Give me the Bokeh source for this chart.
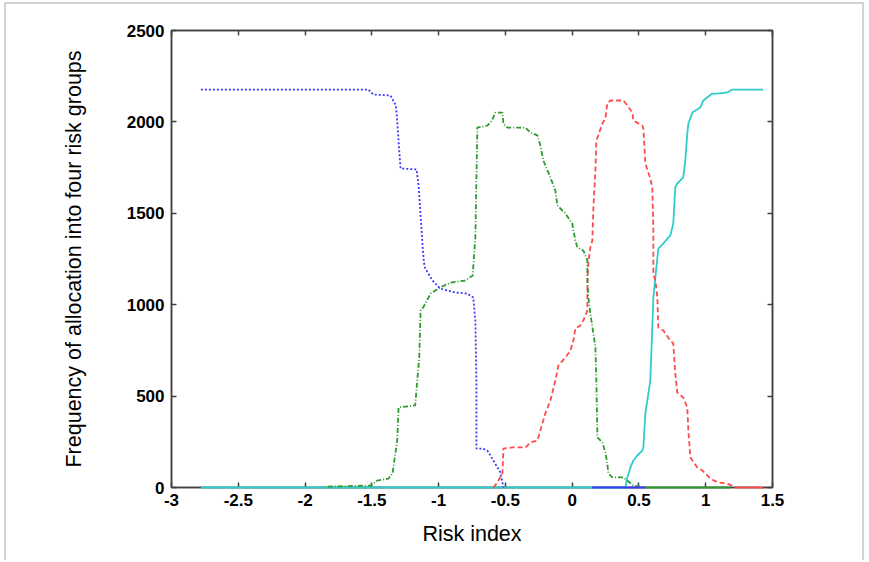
from bokeh.plotting import figure
from bokeh.models import LinearAxis, FixedTicker, Range1d
from bokeh.embed import file_html
from bokeh.resources import INLINE

# ---- tick values / labels ----
x_ticks = [-3.0, -2.5, -2.0, -1.5, -1.0, -0.5, 0.0, 0.5, 1.0, 1.5]
x_tick_labels = ["-3", "-2.5", "-2", "-1.5", "-1", "-0.5", "0", "0.5", "1", "1.5"]
y_ticks = [0, 500, 1000, 1500, 2000, 2500]
y_tick_labels = ["0", "500", "1000", "1500", "2000", "2500"]
x_title = "Risk index"
y_title = "Frequency of allocation into four risk groups"

# ---- series (risk index, frequency) ----
blue_x = [-2.78, -1.525, -1.49, -1.36, -1.32, -1.31, -1.295, -1.285, -1.165, -1.15, -1.135, -1.12,
          -1.11, -1.10, -1.045, -0.99, -0.875, -0.785, -0.74, -0.725, -0.717, -0.717, -0.672,
          -0.635, -0.612, -0.537, -0.515]
blue_y = [2177, 2177, 2150, 2144, 2090, 2008, 1844, 1745, 1740, 1652, 1488, 1324, 1231, 1198,
          1132, 1089, 1067, 1061, 1039, 914, 585, 213, 213, 202, 175, 82, 0]
blue_tail_x = [0.15, 0.55]
blue_tail_y = [0, 0]

green_x = [-1.83, -1.51, -1.46, -1.375, -1.345, -1.31, -1.30, -1.175, -1.16, -1.145, -1.135, -1.115,
           -1.06, -0.99, -0.91, -0.80, -0.745, -0.725, -0.71, -0.635, -0.6, -0.575, -0.522, -0.515,
           -0.485, -0.35, -0.313, -0.26, -0.238, -0.216, -0.163, -0.126, -0.111, -0.051, 0.0, 0.024,
           0.039, 0.084, 0.114, 0.114, 0.121, 0.136, 0.159, 0.174, 0.181, 0.189, 0.226, 0.249, 0.263,
           0.271, 0.301, 0.383, 0.413, 0.458, 0.548]
green_y = [5, 11, 38, 49, 77, 257, 438, 449, 585, 711, 968, 985, 1061, 1094, 1121, 1132, 1160, 1368,
           1969, 1980, 2008, 2051, 2051, 1991, 1969, 1969, 1942, 1926, 1871, 1789, 1696, 1625, 1543,
           1499, 1444, 1351, 1313, 1296, 1242, 1149, 1039, 952, 842, 766, 585, 274, 246, 191, 131, 77,
           55, 55, 38, 11, 0]
green_tail_x = [0.548, 1.184]
green_tail_y = [0, 0]

red_x = [-0.59, -0.56, -0.522, -0.515, -0.448, -0.35, -0.313, -0.26, -0.238, -0.201, -0.163, -0.126,
         -0.103, -0.051, -0.013, 0.009, 0.024, 0.061, 0.084, 0.114, 0.114, 0.121, 0.136, 0.151, 0.159,
         0.174, 0.181, 0.196, 0.226, 0.249, 0.263, 0.286, 0.383, 0.413, 0.451, 0.458, 0.496, 0.525,
         0.533, 0.548, 0.57, 0.585, 0.6, 0.608, 0.608, 0.623, 0.638, 0.645, 0.683, 0.735, 0.757, 0.772,
         0.787, 0.832, 0.862, 0.87, 0.885, 0.937, 0.975, 1.034, 1.094, 1.162, 1.222]
red_y = [0, 27, 77, 213, 219, 219, 246, 257, 312, 405, 476, 585, 667, 711, 749, 804, 870, 886, 914,
         968, 1132, 1225, 1313, 1351, 1532, 1734, 1898, 1926, 1991, 2019, 2101, 2117, 2117, 2090, 2051,
         2008, 1991, 1980, 1964, 1772, 1723, 1690, 1641, 1406, 1171, 1132, 1039, 875, 859, 804, 788,
         624, 520, 492, 438, 312, 164, 109, 93, 49, 27, 22, 0]
red_tail_x = [1.222, 1.43]
red_tail_y = [0, 0]

cyan_x = [-2.78, 0.398, 0.413, 0.436, 0.458, 0.488, 0.525, 0.533, 0.548, 0.563, 0.585, 0.6, 0.608,
          0.623, 0.645, 0.683, 0.735, 0.757, 0.772, 0.787, 0.832, 0.847, 0.862, 0.87, 0.9, 0.96, 0.982,
          1.049, 1.087, 1.162, 1.199, 1.43]
cyan_y = [0, 0, 55, 109, 148, 175, 202, 219, 405, 476, 585, 875, 1039, 1149, 1307, 1335, 1379, 1444,
          1641, 1663, 1696, 1789, 1937, 1991, 2051, 2079, 2117, 2155, 2155, 2161, 2177, 2177]

BLUE = "#3a3aff"
GREEN = "#2f9a2f"
RED = "#ff4a4a"
CYAN = "#30cccc"
AXIS = "#404040"
FONT = "Liberation Sans"

p = figure(width=860, height=558, x_range=Range1d(-3, 1.5), y_range=Range1d(0, 2500),
           output_backend="svg", toolbar_location=None,
           min_border_left=165, min_border_right=94, min_border_top=26, min_border_bottom=75,
           background_fill_color="white", border_fill_color="white",
           styles={"margin-left": "4px", "margin-top": "2px",
                   "border-left": "2px solid #d2d2d2", "border-top": "2px solid #d2d2d2",
                   "border-right": "2px solid #d2d2d2"})
p.xgrid.visible = False
p.ygrid.visible = False
p.outline_line_color = AXIS
p.outline_line_width = 1.5

# main axes
for ax, ticks, labels in ((p.xaxis[0], x_ticks, x_tick_labels), (p.yaxis[0], y_ticks, y_tick_labels)):
    ax.ticker = FixedTicker(ticks=ticks)
    ax.major_label_overrides = {float(t): l for t, l in zip(ticks, labels)}
    ax.major_tick_in = 5
    ax.major_tick_out = 0
    ax.minor_tick_line_color = None
    ax.axis_line_color = AXIS
    ax.axis_line_width = 1.5
    ax.major_tick_line_color = AXIS
    ax.major_tick_line_width = 1.5
    ax.major_label_text_font = FONT
    ax.major_label_text_font_style = "bold"
    ax.major_label_text_font_size = "17px"
    ax.major_label_text_color = "black"
    ax.axis_label_text_font = FONT
    ax.axis_label_text_font_style = "normal"
    ax.axis_label_text_font_size = "21.5px"
    ax.axis_label_text_color = "black"

p.xaxis.axis_label = x_title
p.yaxis.axis_label = y_title
p.xaxis.major_label_standoff = 6
p.yaxis.major_label_standoff = 7
p.xaxis.axis_label_standoff = 13
p.yaxis.axis_label_standoff = 38

# mirrored axes (ticks only, no labels drawn)
top = LinearAxis(ticker=FixedTicker(ticks=x_ticks), major_label_text_font_size="1px",
                 major_label_text_color=None, major_label_standoff=0, major_tick_in=5,
                 major_tick_out=0, minor_tick_line_color=None, axis_line_color=AXIS,
                 axis_line_width=1.5, major_tick_line_color=AXIS, major_tick_line_width=1.5)
right = LinearAxis(ticker=FixedTicker(ticks=y_ticks), major_label_text_font_size="1px",
                   major_label_text_color=None, major_label_standoff=0, major_tick_in=5,
                   major_tick_out=0, minor_tick_line_color=None, axis_line_color=AXIS,
                   axis_line_width=1.5, major_tick_line_color=AXIS, major_tick_line_width=1.5)
p.add_layout(top, "above")
p.add_layout(right, "right")

# series
r = p.line(cyan_x, cyan_y, line_color=CYAN, line_width=1.8)
r.level = "overlay"
r = p.line(red_x, red_y, line_color=RED, line_width=1.8, line_dash="5 3")
r.level = "overlay"
r = p.line(green_x, green_y, line_color=GREEN, line_width=1.8, line_dash="5 2 1 2")
r.level = "overlay"
r = p.line(blue_x, blue_y, line_color=BLUE, line_width=1.8, line_dash="2 2")
r.level = "overlay"
for tx, ty, c in ((blue_tail_x, blue_tail_y, BLUE), (green_tail_x, green_tail_y, GREEN),
                  (red_tail_x, red_tail_y, RED)):
    r = p.line(tx, ty, line_color=c, line_width=1.8)
    r.level = "overlay"

open("out.html", "w").write(file_html(p, INLINE))
